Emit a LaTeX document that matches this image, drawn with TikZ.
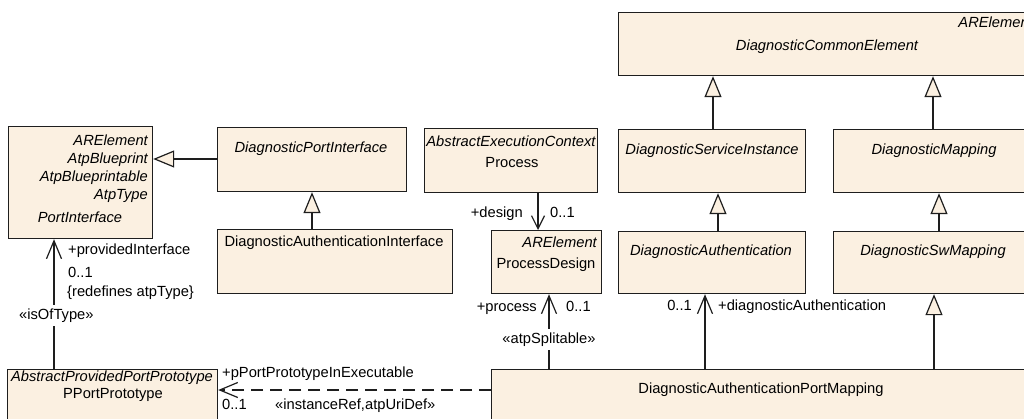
\documentclass[tikz,border=0pt]{standalone}
\usepackage{fontspec}
\setmainfont{Liberation Sans}
\usetikzlibrary{arrows.meta}
\definecolor{boxfill}{RGB}{251,240,225}
\definecolor{edgecol}{RGB}{30,30,30}
\newcommand\dfont{\fontsize{14.7pt}{18pt}\selectfont}
\begin{document}
\begin{tikzpicture}[x=1pt,y=-1pt,
  box/.style={draw=edgecol, fill=boxfill, line width=1.2pt, inner sep=0pt, anchor=north west, rectangle},
  txt/.style={inner sep=0pt, font=\dfont, text=black},
  itxt/.style={inner sep=0pt, font=\dfont\itshape, text=black},
  stereo/.style={txt, fill=white, inner xsep=1pt, inner ysep=3.5pt},
  conn/.style={draw=edgecol, line width=1.2pt},
  gen/.style={conn, -{Triangle[length=21pt,width=17pt,fill=boxfill]}},
  nav/.style={conn, -{Straight Barb[length=18pt,width=15pt]}},
  navs/.style={conn, -{Straight Barb[length=13pt,width=13pt]}},
]
\useasboundingbox (0,0) rectangle (1024,419);
\fill[white] (0,0) rectangle (1024,419);
\clip (0,0) rectangle (1024,419);

% boxes
\node[box, minimum width=144pt, minimum height=112pt] (pi) at (8,126) {};
\node[box, minimum width=189pt, minimum height=64pt] (dpi) at (217,127) {};
\node[box, minimum width=235pt, minimum height=64pt] (dai) at (217,229) {};
\node[box, minimum width=173pt, minimum height=64pt] (proc) at (424,128) {};
\node[box, minimum width=110pt, minimum height=63pt] (pd) at (491,230) {};
\node[box, minimum width=418pt, minimum height=63pt] (dce) at (618,12) {};
\node[box, minimum width=187pt, minimum height=63pt] (dsi) at (618,129) {};
\node[box, minimum width=202pt, minimum height=63pt] (dm) at (833,129) {};
\node[box, minimum width=187pt, minimum height=62pt] (da) at (618,231) {};
\node[box, minimum width=202pt, minimum height=62pt] (dswm) at (833,231) {};
\node[box, minimum width=620pt, minimum height=49.5pt] (dapm) at (491,369) {};
\node[box, minimum width=210pt, minimum height=49.5pt] (ppp) at (7,369) {};

% box texts
\node[itxt, anchor=base east] (t1) at (148,146) {ARElement};
\node[itxt, anchor=base east] (t2) at (148,164) {AtpBlueprint};
\node[itxt, anchor=base east] (t3) at (148,182) {AtpBlueprintable};
\node[itxt, anchor=base east] (t4) at (148,200) {AtpType};
\node[itxt, anchor=base] (t5) at (80,223) {PortInterface};
\node[itxt, anchor=base] (t6) at (311,153) {DiagnosticPortInterface};
\node[txt, anchor=base] (t7) at (334,247) {DiagnosticAuthenticationInterface};
\node[itxt, anchor=base] (t8) at (511,147) {AbstractExecutionContext};
\node[txt, anchor=base] (t9) at (512,168) {Process};
\node[itxt, anchor=base east] (t10) at (597,248) {ARElement};
\node[txt, anchor=base] (t11) at (546,269) {ProcessDesign};
\node[itxt, anchor=base east] (t12) at (1033,28) {ARElement};
\node[itxt, anchor=base] (t13) at (827,51) {DiagnosticCommonElement};
\node[itxt, anchor=base] (t14) at (712,155) {DiagnosticServiceInstance};
\node[itxt, anchor=base] (t15) at (934,155) {DiagnosticMapping};
\node[itxt, anchor=base] (t16) at (711,256) {DiagnosticAuthentication};
\node[itxt, anchor=base] (t17) at (933,256) {DiagnosticSwMapping};
\node[txt, anchor=base] (t18) at (761,393) {DiagnosticAuthenticationPortMapping};
\node[itxt, anchor=base] (t19) at (112,381) {AbstractProvidedPortPrototype};
\node[txt, anchor=base] (t20) at (113,398) {PPortPrototype};

% connectors
\draw[gen] (dpi.west |- 0,159) -- (pi.east |- 0,159);
\draw[gen] (dai.north -| 312,0) -- (dpi.south -| 312,0);
\draw[gen] (dsi.north -| 713,0) -- (dce.south -| 713,0);
\draw[gen] (dm.north -| 933,0) -- (dce.south -| 933,0);
\draw[gen] (da.north -| 718,0) -- (dsi.south -| 718,0);
\draw[gen] (dswm.north -| 939,0) -- (dm.south -| 939,0);
\draw[gen] (dapm.north -| 934,0) -- (dswm.south -| 934,0);
\draw[navs] (proc.south -| 538,0) -- (pd.north -| 538,0);
\draw[nav] (dapm.north -| 549,0) -- (pd.south -| 549,0);
\draw[nav] (dapm.north -| 705,0) -- (da.south -| 705,0);
\draw[nav] (ppp.north -| 54,0) -- (pi.south -| 54,0);
\draw[nav, dash pattern=on 12pt off 7pt] (dapm.west |- 0,390) -- (ppp.east |- 0,390);

% connector labels
\node[txt, anchor=base west] (l1) at (68,255) {+providedInterface};
\node[txt, anchor=base west] (l2) at (68,277) {0..1};
\node[txt, anchor=base west] (l3) at (67,296) {\{redefines atpType\}};
\node[stereo, anchor=base west] (l4) at (18,319) {«isOfType»};
\node[txt, anchor=base east] (l5) at (523,218) {+design};
\node[txt, anchor=base west] (l6) at (550,218) {0..1};
\node[txt, anchor=base east] (l7) at (537,312) {+process};
\node[txt, anchor=base west] (l8) at (566,312) {0..1};
\node[stereo, anchor=base] (l9) at (549,343) {«atpSplitable»};
\node[txt, anchor=base east] (l10) at (692,310) {0..1};
\node[txt, anchor=base west] (l11) at (718,310) {+diagnosticAuthentication};
\node[txt, anchor=base west] (l12) at (222,377) {+pPortPrototypeInExecutable};
\node[txt, anchor=base west] (l13) at (222,409) {0..1};
\node[txt, anchor=base west] (l14) at (275,409) {«instanceRef,atpUriDef»};
\end{tikzpicture}
\end{document}
